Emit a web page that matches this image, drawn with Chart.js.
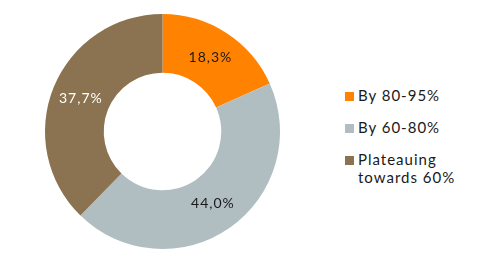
<!DOCTYPE html>
<html>
<head>
<meta charset="utf-8">
<script src="https://cdn.jsdelivr.net/npm/chart.js@4/dist/chart.umd.min.js"></script>
<style>
  body { margin: 0; background: #fff; }
  #wrap { position: relative; width: 493px; height: 267px; overflow: hidden; }
  #chart { position: absolute; left: 0; top: 0; }
  #legend {
    position: absolute; left: 345px; top: 86px;
    font-family: Lato, sans-serif; font-size: 15px; letter-spacing: 1px;
    color: #1a1a1a; line-height: 18px;
  }
  .item { position: relative; padding-left: 13px; margin-bottom: 14px; white-space: pre-line; }
  .item .box { position: absolute; left: 0; top: 6px; width: 9px; height: 9px; }
</style>
</head>
<body>
<div id="wrap">
  <canvas id="chart" width="330" height="267"></canvas>
  <div id="legend"></div>
</div>
<script>
// share of cases per outcome
const categories = ['By 80-95%', 'By 60-80%', 'Plateauing\ntowards 60%'];
const shares = [18.3, 44.0, 37.7];
const sliceLabels = ['18,3%', '44,0%', '37,7%'];

const colors = ['#ff8200', '#b0bec2', '#8b7351'];
const labelColors = ['#1a1a1a', '#1a1a1a', '#ffffff'];

const sliceText = {
  id: 'sliceText',
  afterDatasetsDraw(chart) {
    const ctx = chart.ctx;
    const meta = chart.getDatasetMeta(0);
    ctx.save();
    ctx.font = '14px Lato, sans-serif';
    ctx.letterSpacing = '1px';
    ctx.textAlign = 'center';
    ctx.textBaseline = 'middle';
    meta.data.forEach((arc, i) => {
      const p = arc.getProps(['x', 'y', 'startAngle', 'endAngle', 'innerRadius', 'outerRadius'], true);
      const mid = (p.startAngle + p.endAngle) / 2;
      const r = (p.innerRadius + p.outerRadius) / 2;
      ctx.fillStyle = labelColors[i];
      ctx.fillText(sliceLabels[i], p.x + Math.cos(mid) * r, p.y + Math.sin(mid) * r);
    });
    ctx.restore();
  }
};

new Chart(document.getElementById('chart'), {
  type: 'doughnut',
  data: {
    labels: categories,
    datasets: [{
      data: shares,
      backgroundColor: colors,
      borderWidth: 0
    }]
  },
  options: {
    responsive: false,
    animation: false,
    cutout: '50%',
    layout: { padding: { left: 45, right: 50, top: 14, bottom: 18 } },
    plugins: {
      legend: { display: false },
      tooltip: { enabled: false }
    }
  },
  plugins: [sliceText]
});

const legend = document.getElementById('legend');
categories.forEach((c, i) => {
  const el = document.createElement('div');
  el.className = 'item';
  el.innerHTML = '<span class="box" style="background:' + colors[i] + '"></span>';
  el.appendChild(document.createTextNode(c));
  legend.appendChild(el);
});
</script>
</body>
</html>
